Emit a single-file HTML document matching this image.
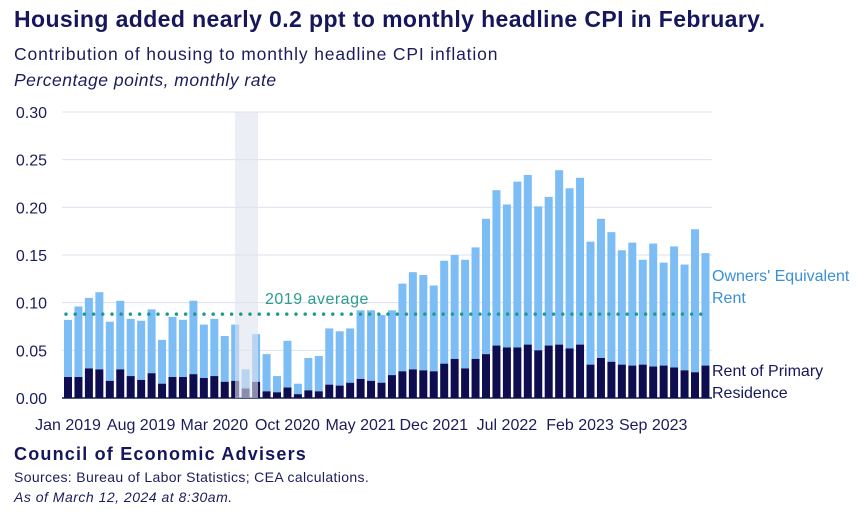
<!DOCTYPE html>
<html><head><meta charset="utf-8"><style>
body{margin:0;width:867px;height:518px;background:#fff;font-family:"Liberation Sans",sans-serif;overflow:hidden;position:relative;color:#14145a}
.t{position:absolute;white-space:nowrap}
</style></head><body>
<div class="t" style="left:14px;top:6px;font-size:23px;font-weight:bold;color:#16165c;letter-spacing:0.4px">Housing added nearly 0.2 ppt to monthly headline CPI in February.</div>
<div class="t" style="left:14px;top:44px;font-size:17.5px;color:#1c1c5c;letter-spacing:0.85px">Contribution of housing to monthly headline CPI inflation</div>
<div class="t" style="left:14px;top:70px;font-size:17.5px;font-style:italic;color:#1c1c5c;letter-spacing:0.5px">Percentage points, monthly rate</div>
<svg id="c" width="867" height="518" style="position:absolute;left:0;top:0"></svg>
<div class="t" style="left:14px;top:444px;font-size:18px;font-weight:bold;color:#16165c;letter-spacing:1.2px">Council of Economic Advisers</div>
<div class="t" style="left:14px;top:469px;font-size:14px;color:#1c1c5c;letter-spacing:0.35px">Sources: Bureau of Labor Statistics; CEA calculations.</div>
<div class="t" style="left:14px;top:489px;font-size:14px;font-style:italic;color:#1c1c5c;letter-spacing:0.5px">As of March 12, 2024 at 8:30am.</div>
<script>
const totals=[0.082,0.096,0.105,0.111,0.080,0.102,0.083,0.081,0.093,0.061,0.085,0.082,
0.102,0.077,0.083,0.065,0.077,0.030,0.067,0.046,0.023,0.060,0.015,0.042,
0.044,0.073,0.070,0.073,0.092,0.092,0.087,0.092,0.120,0.132,0.129,0.118,
0.144,0.150,0.145,0.158,0.188,0.218,0.203,0.227,0.234,0.201,0.211,0.239,
0.220,0.231,0.164,0.188,0.174,0.155,0.163,0.145,0.162,0.142,0.159,0.140,0.177,0.152];
const rent=[0.022,0.022,0.031,0.030,0.018,0.030,0.023,0.019,0.026,0.015,0.022,0.022,
0.025,0.021,0.023,0.017,0.018,0.010,0.017,0.007,0.006,0.011,0.004,0.008,
0.007,0.014,0.013,0.016,0.020,0.018,0.016,0.024,0.028,0.030,0.029,0.028,
0.036,0.041,0.031,0.041,0.046,0.055,0.053,0.053,0.056,0.050,0.055,0.056,
0.052,0.056,0.035,0.042,0.038,0.035,0.034,0.035,0.033,0.034,0.032,0.029,0.027,0.034];
const yTicks=[0,0.05,0.10,0.15,0.20,0.25,0.30];
const xLabels=["Jan 2019","Aug 2019","Mar 2020","Oct 2020","May 2021","Dec 2021","Jul 2022","Feb 2023","Sep 2023"];
const avg2019=0.088;
const NS="http://www.w3.org/2000/svg",svg=document.getElementById('c');
const x0=64,slot=10.45,bw=8,y0=398,k=953.3;
const X=i=>x0+i*slot, Y=v=>y0-v*k;
function mk(t,a){const e=document.createElementNS(NS,t);for(const n in a)e.setAttribute(n,a[n]);svg.appendChild(e);return e;}
yTicks.forEach(v=>{
 const l=mk('line',{x1:62,x2:712,y1:Y(v),y2:Y(v),stroke:v===0?'#1c1c5c':'#dde0ee','stroke-width':v===0?1.5:1});
 
 
 const t=mk('text',{x:47,y:Y(v)+6,'text-anchor':'end','font-size':16,fill:'#1c1c5c'});
 t.textContent=v.toFixed(2);
 
 
});
totals.forEach((v,i)=>{
 const a=mk('rect',{x:X(i),y:Y(v),width:bw,height:(v-rent[i])*k,fill:'#7dbdf6'});
 
 
 const b=mk('rect',{x:X(i),y:Y(rent[i]),width:bw,height:rent[i]*k,fill:'#0d0d4f'});
 
 
});
const sh=mk('rect',{x:235,y:112,width:23,height:286,fill:'#dfe2ee','fill-opacity':0.6});


const al=mk('line',{x1:66,x2:706,y1:Y(avg2019),y2:Y(avg2019),stroke:'#1e9a8c','stroke-width':3.5,'stroke-dasharray':'0 9.2','stroke-linecap':'round'});


const at=mk('text',{x:265,y:304,'font-size':16,fill:'#2a9d8f','letter-spacing':0.5});at.textContent='2019 average';


xLabels.forEach((s,j)=>{
 const t=mk('text',{x:X(j*7)+bw/2,y:430,'text-anchor':'middle','font-size':16,fill:'#1c1c5c'});t.textContent=s;
 
 
});
[["Owners' Equivalent",281,'#3a8fd6'],["Rent",303,'#3a8fd6'],["Rent of Primary",376,'#16165c'],["Residence",398,'#16165c']].forEach(r=>{
 const t=mk('text',{x:712,y:r[1],'font-size':16,fill:r[2]});t.textContent=r[0];
 
 
});
</script>
</body></html>
